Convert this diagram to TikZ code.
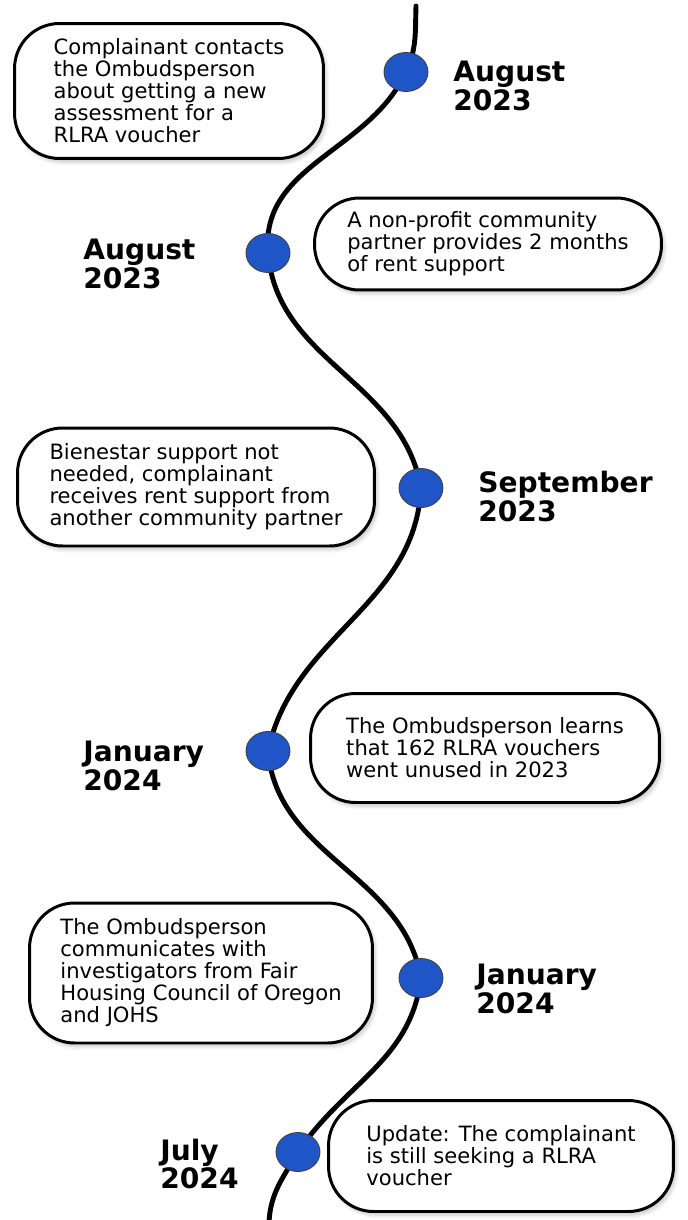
\documentclass[tikz,border=0pt]{standalone}
\usepackage{fontspec}
\setmainfont{DejaVu Sans}
\usetikzlibrary{shapes.geometric}
\usetikzlibrary{shadows.blur}

\definecolor{dotblue}{HTML}{1F55C6}

\tikzset{
  event/.style={draw, line width=1.7pt, fill=white, rounded corners=0.9cm,
    align=left, inner sep=0pt, font=\fontsize{12}{12.5}\selectfont,
    blur shadow={shadow xshift=1.5pt, shadow yshift=-2pt,
      shadow blur steps=6, shadow opacity=22}},
  date/.style={anchor=west, align=left, inner sep=0pt,
    font=\fontsize{16}{16.5}\selectfont\bfseries},
  dot/.style={ellipse, draw=black!75, line width=0.5pt, fill=dotblue,
    minimum width=0.88cm, minimum height=0.78cm, inner sep=0pt},
  trail/.style={line width=2.8pt, line cap=round}
}

\begin{document}
\begin{tikzpicture}[x=0.02cm,y=0.02cm]
      \useasboundingbox (0,0) rectangle (688,-1220);

      % points on the timeline
      \coordinate (top) at (416,-6);
      \coordinate (p1) at (406,-72);
      \coordinate (p2) at (268,-253);
      \coordinate (p3) at (421,-488);
      \coordinate (p4) at (268,-751);
      \coordinate (p5) at (421,-978);
      \coordinate (p6) at (298,-1152);
      \coordinate (bot) at (269,-1222);

      \draw[trail] (top) to[out=-92,in=65] (p1)
        to[out=-115,in=95] (p2)
        to[out=-85,in=100] (p3)
        to[out=-93,in=78] (p4)
        to[out=-85,in=100] (p5)
        to[out=-97,in=56] (p6)
        to[out=-120,in=87] (bot);

      \node[dot] (d1) at (p1) {};
      \node[dot] (d2) at (p2) {};
      \node[dot] (d3) at (p3) {};
      \node[dot] (d4) at (p4) {};
      \node[dot] (d5) at (p5) {};
      \node[dot] (d6) at (p6) {};

      % dates
      \node[date] (t1) at (453,-86) {August\\2023};
      \node[date] (t2) at (83,-264) {August\\2023};
      \node[date] (t3) at (478,-497) {September\\2023};
      \node[date] (t4) at (83,-766) {January\\2024};
      \node[date] (t5) at (476,-989) {January\\2024};
      \node[date] (t6) at (160,-1164) {July\\2024};

      % events
      \node[event, minimum width=6.18cm, minimum height=2.7cm] (e1) at (169,-91)
        {Complainant contacts\\the Ombudsperson\\about getting a new\\assessment for a\\RLRA voucher};
      \node[event, minimum width=6.94cm, minimum height=1.84cm] (e2) at (488,-244)
        {A non-profit community\\partner provides 2 months\\of rent support};
      \node[event, minimum width=7.14cm, minimum height=2.36cm] (e3) at (196,-487)
        {Bienestar support not\\needed, complainant\\receives rent support from\\another community partner};
      \node[event, minimum width=6.98cm, minimum height=2.18cm] (e4) at (485,-748)
        {The Ombudsperson learns\\that 162 RLRA vouchers\\went unused in 2023};
      \node[event, minimum width=6.86cm, minimum height=2.8cm] (e5) at (201,-973)
        {The Ombudsperson\\communicates with\\investigators from Fair\\Housing Council of Oregon\\and JOHS};
      \node[event, minimum width=6.9cm, minimum height=2.22cm] (e6) at (501,-1156)
        {Update: The complainant\\is still seeking a RLRA\\voucher};
\end{tikzpicture}
\end{document}
